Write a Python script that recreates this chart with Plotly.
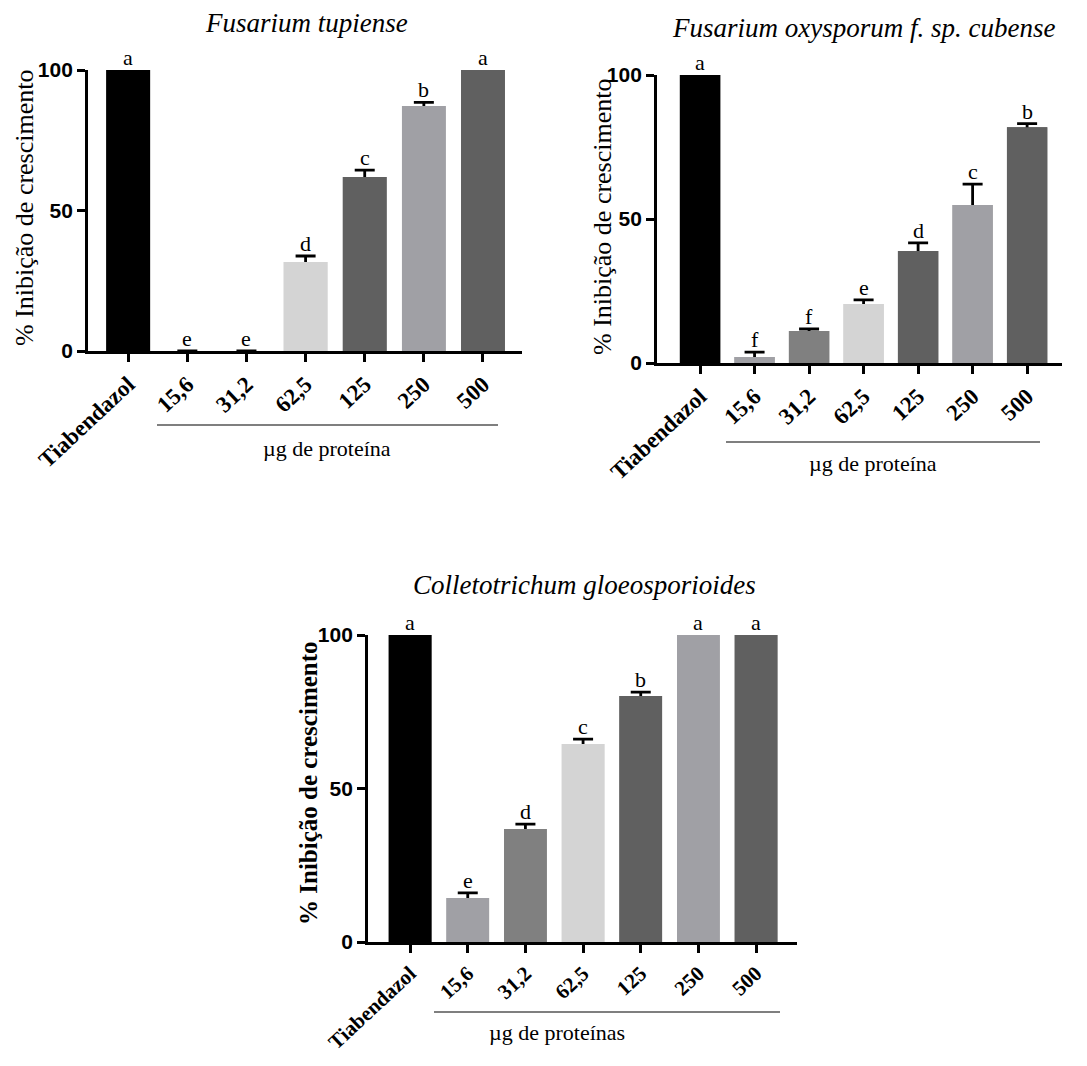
import plotly.graph_objects as go

categories = ["Tiabendazol", "15,6", "31,2", "62,5", "125", "250", "500"]

# Panel 1: Fusarium tupiense
title1 = "Fusarium tupiense"
values1 = [100, 0, 0, 31.7, 61.9, 87.2, 100]
errors1 = [0, 0, 0, 2.1, 2.5, 1.3, 0]
letters1 = ["a", "e", "e", "d", "c", "b", "a"]
colors1 = ["#000000", "#a0a0a5", "#808080", "#d4d4d4", "#606060", "#a0a0a5", "#606060"]
xlabel1 = "µg de proteína"

# Panel 2: Fusarium oxysporum f. sp. cubense
title2 = "Fusarium oxysporum f. sp. cubense"
values2 = [100, 2.1, 11.1, 20.5, 38.9, 54.9, 81.9]
errors2 = [0, 1.7, 0.7, 1.4, 2.8, 7.2, 1.2]
letters2 = ["a", "f", "f", "e", "d", "c", "b"]
colors2 = ["#000000", "#a0a0a5", "#808080", "#d4d4d4", "#606060", "#a0a0a5", "#606060"]
xlabel2 = "µg de proteína"

# Panel 3: Colletotrichum gloeosporioides
title3 = "Colletotrichum gloeosporioides"
values3 = [100, 14.3, 36.8, 64.5, 80.1, 100, 100]
errors3 = [0, 1.7, 1.6, 1.6, 1.3, 0, 0]
letters3 = ["a", "e", "d", "c", "b", "a", "a"]
colors3 = ["#000000", "#a0a0a5", "#808080", "#d4d4d4", "#606060", "#a0a0a5", "#606060"]
xlabel3 = "µg de proteínas"

ytitle = "% Inibição de crescimento"
yticks = [0, 50, 100]

# page has an 8px body margin; figure sized to fit the window
OFF = 8
W, H = 1087 - 2 * OFF, 1066 - 2 * OFF
def px(x):
    return (x - OFF) / W
def py(y):
    return 1 - (y - OFF) / H

SERIF = "Liberation Serif, Times New Roman, DejaVu Serif, serif"
SANS = "Liberation Sans, Arial, sans-serif"

panels = [
    dict(vals=values1, errs=errors1, lets=letters1, cols=colors1, title=title1, xl=xlabel1,
         xd=(88, 522), yd=(70, 351), xr=[-0.68, 6.66], tfs=23,
         tpos=(306, 23), ytpos=(24, 208), line=(157, 498, 425), xlpos=(327, 448), ytbold=False),
    dict(vals=values2, errs=errors2, lets=letters2, cols=colors2, title=title2, xl=xlabel2,
         xd=(657, 1062), yd=(75, 363), xr=[-0.79, 6.64], tfs=23,
         tpos=(863, 28), ytpos=(603, 217), line=(726, 1040, 442), xlpos=(873, 463), ytbold=False),
    dict(vals=values3, errs=errors3, lets=letters3, cols=colors3, title=title3, xl=xlabel3,
         xd=(368, 797), yd=(635, 942), xr=[-0.73, 6.71], tfs=21,
         tpos=(584, 585), ytpos=(308, 783), line=(434, 780, 1012), xlpos=(557, 1032), ytbold=True),
]

fig = go.Figure()
annotations = []
shapes = []
layout = {}

for i, p in enumerate(panels, start=1):
    xa = "x" if i == 1 else f"x{i}"
    ya = "y" if i == 1 else f"y{i}"
    # bars with symmetric error bars (lower half gets covered by the overlay bars)
    fig.add_trace(go.Bar(
        x=categories, y=p["vals"], marker=dict(color=p["cols"], line=dict(width=0)),
        width=0.74,
        error_y=dict(type="data", array=p["errs"], symmetric=True,
                     color="#000000", thickness=2.8, width=10),
        xaxis=xa, yaxis=ya, showlegend=False,
    ))
    fig.add_trace(go.Bar(
        x=categories, y=p["vals"], marker=dict(color=p["cols"], line=dict(width=0)),
        width=0.74, xaxis=xa, yaxis=ya, showlegend=False,
    ))
    layout["xaxis" if i == 1 else f"xaxis{i}"] = dict(
        domain=[px(p["xd"][0]), px(p["xd"][1])], anchor=ya, type="category",
        categoryorder="array", categoryarray=categories, range=p["xr"],
        showline=True, linecolor="#000000", linewidth=2.8, ticks="outside",
        ticklen=8, tickwidth=2.8, tickcolor="#000000", tickangle=-43,
        tickfont=dict(family=SERIF, size=p["tfs"], color="#000000", weight="bold"),
        showgrid=False, zeroline=False, fixedrange=True,
    )
    layout["yaxis" if i == 1 else f"yaxis{i}"] = dict(
        domain=[py(p["yd"][1]), py(p["yd"][0])], anchor=xa, range=[0, 100],
        tickvals=yticks, showline=True, linecolor="#000000", linewidth=2.8,
        ticks="outside", ticklen=8, tickwidth=2.8, tickcolor="#000000",
        tickfont=dict(family=SANS, size=21, color="#000000", weight="bold"),
        showgrid=False, zeroline=False, fixedrange=True,
    )
    for idx, (v, e, l) in enumerate(zip(p["vals"], p["errs"], p["lets"])):
        annotations.append(dict(
            x=idx, y=v + e, xref=xa, yref=ya, text=l, showarrow=False,
            yanchor="bottom", yshift=-2,
            font=dict(family=SERIF, size=22, color="#000000"),
        ))
    annotations.append(dict(
        x=px(p["tpos"][0]), y=py(p["tpos"][1]), xref="paper", yref="paper",
        text=f"<i>{p['title']}</i>", showarrow=False, xanchor="center", yanchor="middle",
        font=dict(family=SERIF, size=27, color="#000000"),
    ))
    annotations.append(dict(
        x=px(p["ytpos"][0]), y=py(p["ytpos"][1]), xref="paper", yref="paper",
        text=(f"<b>{ytitle}</b>" if p["ytbold"] else ytitle), textangle=-90,
        showarrow=False, xanchor="center", yanchor="middle",
        font=dict(family=SERIF, size=26 if not p["ytbold"] else 25, color="#000000"),
    ))
    annotations.append(dict(
        x=px(p["xlpos"][0]), y=py(p["xlpos"][1]), xref="paper", yref="paper",
        text=p["xl"], showarrow=False, xanchor="center", yanchor="middle",
        font=dict(family=SERIF, size=22, color="#000000"),
    ))
    x0, x1, yl = p["line"]
    shapes.append(dict(type="line", xref="paper", yref="paper",
                       x0=px(x0), x1=px(x1), y0=py(yl), y1=py(yl),
                       line=dict(color="#000000", width=1.2)))

fig.update_layout(
    width=W, height=H, margin=dict(l=0, r=0, t=0, b=0, autoexpand=False),
    paper_bgcolor="#ffffff", plot_bgcolor="#ffffff",
    barmode="overlay", annotations=annotations, shapes=shapes, **layout,
)

fig.write_html("out.html")
